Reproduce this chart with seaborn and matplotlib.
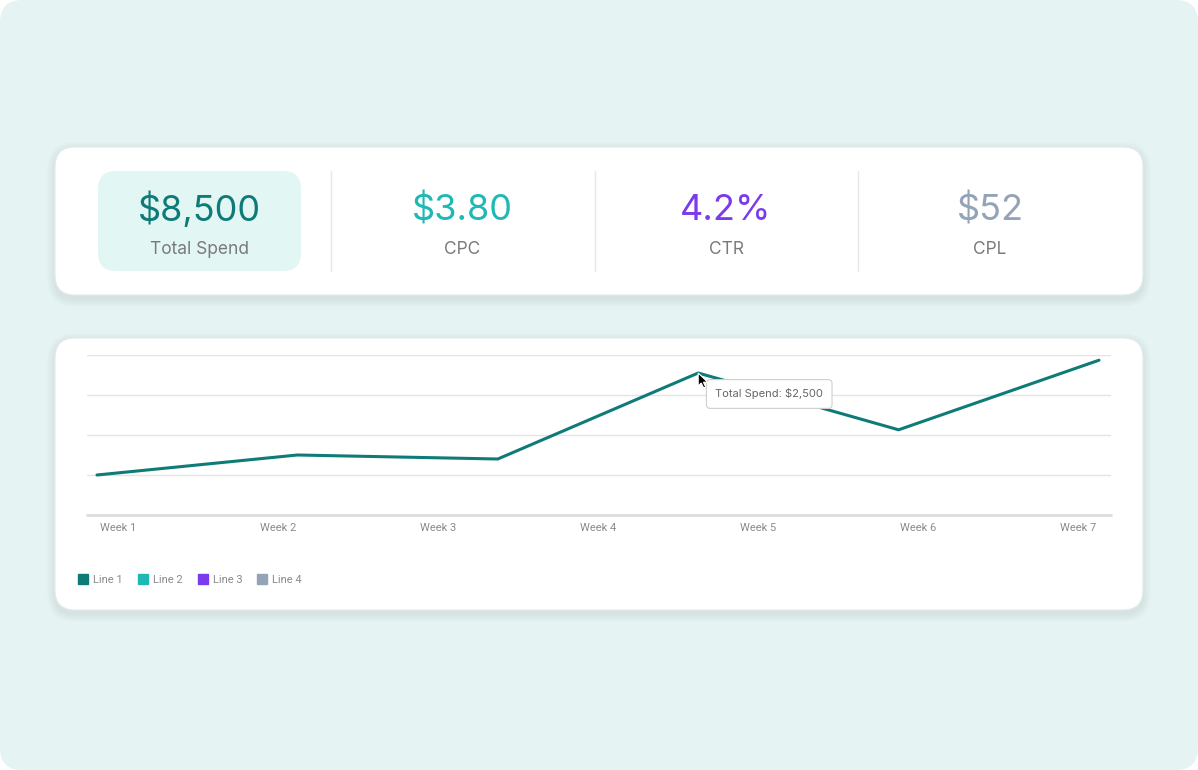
import numpy as np
import pandas as pd
import matplotlib
matplotlib.use('Agg')
from matplotlib import pyplot as plt
from matplotlib.patches import FancyBboxPatch, Polygon
from matplotlib.lines import Line2D
import seaborn as sns

# DATA
kpi_values = ['$8,500', '$3.80', '4.2%', '$52']
kpi_labels = ['Total Spend', 'CPC', 'CTR', 'CPL']
kpi_colors = ['#0f7b78', '#1fb8b5', '#7c3aed', '#94a3b8']

week_labels = ['Week 1', 'Week 2', 'Week 3', 'Week 4', 'Week 5', 'Week 6', 'Week 7']
spend_points = [0, 1, 2, 3, 4, 5]
spend_values = [1.0, 1.5, 1.4, 3.55, 2.13, 3.87]
tooltip_text = 'Total Spend: $2,500'
tooltip_idx = 3

legend_names = ['Line 1', 'Line 2', 'Line 3', 'Line 4']
legend_colors = ['#0f7b78', '#1fb8b5', '#7c3aed', '#94a3b8']
############################

sns.set_theme(style='white')
plt.rcParams['font.family'] = ['Inter', 'DejaVu Sans']

W, H = 1198, 770
fig = plt.figure(figsize=(W / 100, H / 100), dpi=100)
fig.patch.set_facecolor('white')

# background layer in pixel coords
bg = fig.add_axes([0, 0, 1, 1])
bg.set_xlim(0, W)
bg.set_ylim(H, 0)
bg.axis('off')

def rbox(x0, y0, x1, y1, r, fc, ec='none', lw=0, z=1, alpha=1):
    p = FancyBboxPatch((x0, y0), x1 - x0, y1 - y0,
                       boxstyle='round,pad=0,rounding_size=%d' % r,
                       fc=fc, ec=ec, lw=lw, zorder=z, alpha=alpha)
    bg.add_patch(p)
    return p

rbox(0, 0, W, H, 22, '#e5f4f3')

# cards with soft shadow
for (x0, y0, x1, y1) in [(55, 147, 1143, 295), (55, 338, 1143, 610)]:
    for k in range(8, 0, -1):
        rbox(x0 - k, y0 - k + 3, x1 + k, y1 + k + 4, 20 + k, '#9fb8b6', z=2, alpha=0.025)
    rbox(x0, y0, x1, y1, 20, 'white', ec='#e3eaea', lw=0.8, z=3)

# KPI row
rbox(98, 171, 301, 271, 18, '#e2f6f4', z=4)
centers = [199, 462, 726, 990]
for xd in [331, 595, 858]:
    bg.plot([xd, xd], [171, 271], color='#e6e8e8', lw=1, zorder=4)
for cx, v, lab, col in zip(centers, kpi_values, kpi_labels, kpi_colors):
    bg.text(cx, 210, v, color=col, fontsize=26, ha='center', va='center', zorder=5)
    bg.text(cx, 249, lab, color='#7a7a7a', fontsize=12.5, ha='center', va='center', zorder=5)

# line chart
left, right, top, bottom = 87, 1111, 355, 515
ax = fig.add_axes([left / W, 1 - bottom / H, (right - left) / W, (bottom - top) / H])
ax.set_zorder(5)
ax.patch.set_alpha(0)
df = pd.DataFrame({'x': spend_points, 'spend': spend_values})
sns.lineplot(data=df, x='x', y='spend', ax=ax, color='#0f7b78', lw=2.2, zorder=3)
px = 200.4
ax.set_xlim(-10 / px, 5 + 12 / px)
ax.set_ylim(0, 4)
ax.set_yticks([1, 2, 3, 4])
ax.yaxis.grid(True, color='#e4e4e4', lw=1)
ax.axhline(0, color='#dcdcdc', lw=2, zorder=2, clip_on=False)
ax.set_xticks(np.linspace(21 / px, 981 / px, 7))
ax.set_xticklabels(week_labels, fontsize=8, color='#8a8a8a', family=['Roboto', 'DejaVu Sans'])
ax.tick_params(axis='x', length=0, pad=6)
ax.tick_params(axis='y', length=0, labelleft=False)
ax.set_xlabel('')
ax.set_ylabel('')
sns.despine(ax=ax, left=True, bottom=True, top=True, right=True)

# tooltip next to the peak
tx, ty = spend_points[tooltip_idx], spend_values[tooltip_idx]
ax.annotate(tooltip_text, xy=(tx, ty), xytext=(71 * 0.72, -21 * 0.72), textcoords='offset points',
            ha='center', va='center', fontsize=8, color='#666666', zorder=10,
            family=['Inter', 'DejaVu Sans'], annotation_clip=False,
            bbox=dict(boxstyle='round,pad=0.8,rounding_size=0.35', fc='white', ec='#cfcfcf', lw=0.8))

# mouse cursor at the peak
fig.canvas.draw()
dx, dy = ax.transData.transform((tx, ty))
cur = np.array([(0, 0), (0, 13), (3, 10), (5.5, 15), (7.5, 14), (5.2, 9.2), (9.5, 9.2)])
verts = np.column_stack([dx + cur[:, 0], dy - cur[:, 1]])
fig.patches.append(Polygon(verts, closed=True, fc='black', ec='white', lw=0.8,
                           transform=None, figure=fig, zorder=20))

# legend
handles = [Line2D([0], [0], marker='s', ls='none', markersize=7, markerfacecolor=c,
                  markeredgecolor=c) for c in legend_colors]
leg = fig.legend(handles, legend_names, loc='center left', bbox_to_anchor=(69 / W, 1 - 580 / H),
                 ncol=4, frameon=False, handlelength=0.8, handletextpad=0.5, columnspacing=1.4,
                 prop={'size': 8, 'family': ['Roboto', 'DejaVu Sans']})
for t in leg.get_texts():
    t.set_color('#8a8a8a')

fig.savefig('out.png', dpi=100)
